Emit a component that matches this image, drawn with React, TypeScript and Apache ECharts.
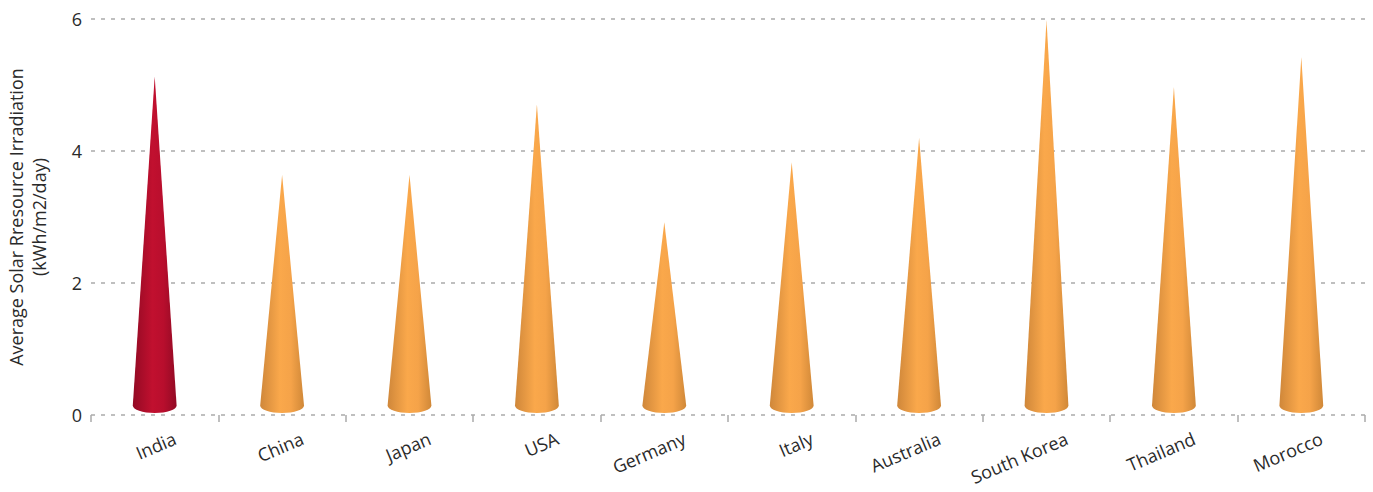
import React, { useEffect, useRef } from "react";
import * as echarts from "echarts";

const categories = ["India", "China", "Japan", "USA", "Germany", "Italy", "Australia", "South Korea", "Thailand", "Morocco"];
const irradiation = [5.13, 3.64, 3.64, 4.71, 2.92, 3.83, 4.2, 5.98, 4.97, 5.42];
const highlightIndex = 0;
const yTicks = [0, 2, 4, 6];

const orangeGrad = () =>
  new echarts.graphic.LinearGradient(0, 0, 1, 0, [
    { offset: 0, color: "#cf873a" },
    { offset: 0.45, color: "#faa84b" },
    { offset: 0.7, color: "#f5a349" },
    { offset: 1, color: "#d08838" },
  ]);
const redGrad = () =>
  new echarts.graphic.LinearGradient(0, 0, 1, 0, [
    { offset: 0, color: "#930a24" },
    { offset: 0.45, color: "#c1102f" },
    { offset: 0.7, color: "#b80e2d" },
    { offset: 1, color: "#920a24" },
  ]);

export default function App() {
  const ref = useRef<HTMLDivElement>(null);
  useEffect(() => {
    if (!ref.current) return;
    const chart = echarts.init(ref.current, undefined, { renderer: "svg" });
    const font = "'Open Sans', Lato, sans-serif";
    chart.setOption({
      animation: false,
      textStyle: { fontFamily: font },
      grid: { left: 91, right: 8, top: 19, bottom: 77, outerBoundsMode: "none", containLabel: false },
      xAxis: {
        type: "category",
        data: categories,
        boundaryGap: true,
        axisLine: { show: false },
        axisTick: { show: true, length: 7, lineStyle: { color: "#aaaaaa", width: 1.5 } },
        axisLabel: {
          rotate: 23,
          margin: 31,
          fontSize: 18,
          color: "#2a2a2a",
          fontFamily: font,
          hideOverlap: false,
          interval: 0,
          padding: [0, -22, 0, 0],
        },
      },
      yAxis: {
        type: "value",
        min: 0,
        max: 6,
        interval: 2,
        name: "Average Solar Rresource Irradiation\n(kWh/m2/day)",
        nameLocation: "middle",
        nameGap: 41,
        nameTextStyle: { fontSize: 18, color: "#2a2a2a", fontFamily: font, lineHeight: 23 },
        axisLine: { show: false },
        axisTick: { show: false },
        axisLabel: {
          fontSize: 18,
          color: "#2a2a2a",
          margin: 9,
          fontFamily: font,
          formatter: (v: number) => (yTicks.includes(v) ? String(v) : ""),
        },
        splitLine: { show: true, lineStyle: { color: "#aaaaaa", type: [4, 6], width: 1.5 } },
      },
      series: [
        {
          type: "custom",
          data: irradiation.map((v, i) => [i, v]),
          renderItem: (params: any, api: any) => {
            const idx = api.value(0);
            const val = api.value(1);
            const tip = api.coord([idx, val]);
            const base = api.coord([idx, 0]);
            const bw = api.size([1, 0])[0];
            const r = bw * 0.172;
            const capH = 7.5;
            const cx = tip[0];
            const bottom = base[1] - 2;
            const y0 = bottom - capH;
            const k = 0.552;
            const d =
              `M${cx},${tip[1]} L${cx + r},${y0} ` +
              `C${cx + r},${y0 + k * capH} ${cx + k * r},${bottom} ${cx},${bottom} ` +
              `C${cx - k * r},${bottom} ${cx - r},${y0 + k * capH} ${cx - r},${y0} Z`;
            return {
              type: "path",
              shape: { pathData: d },
              style: { fill: idx === highlightIndex ? redGrad() : orangeGrad() },
            };
          },
        },
      ],
    });
    return () => chart.dispose();
  }, []);
  return (
    <div
      ref={ref}
      style={{ position: "absolute", left: 0, top: 0, width: 1373, height: 492 }}
    />
  );
}
